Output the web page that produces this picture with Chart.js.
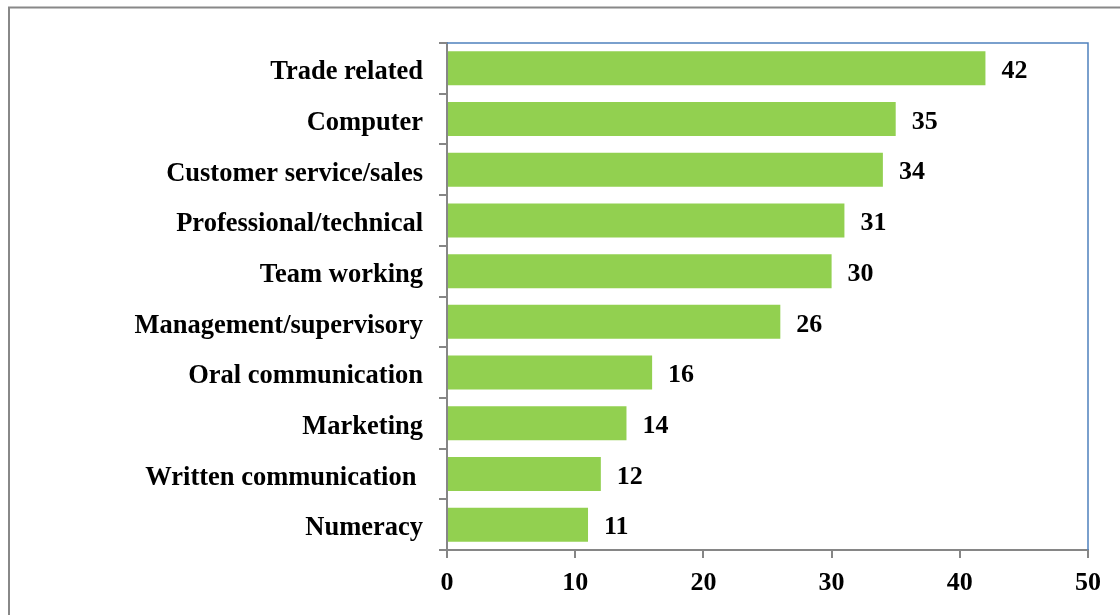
<!DOCTYPE html>
<html>
<head>
<meta charset="utf-8">
<title>Skills</title>
<script src="https://cdn.jsdelivr.net/npm/chart.js@4.4.1/dist/chart.umd.min.js"></script>
<style>
  html, body { margin: 0; padding: 0; background: #fff; }
  #wrap { width: 1120px; height: 615px; position: relative; }
</style>
</head>
<body>
<div id="wrap"><canvas id="skillsChart" width="1120" height="615"></canvas></div>
<script>
const skills = [
    "Trade related",
    "Computer",
    "Customer service/sales",
    "Professional/technical",
    "Team working",
    "Management/supervisory",
    "Oral communication",
    "Marketing",
    "Written communication ",
    "Numeracy"
];
const counts = [42, 35, 34, 31, 30, 26, 16, 14, 12, 11];
const xTicks = [0, 10, 20, 30, 40, 50];

const fontFamily = "'Liberation Serif', 'Times New Roman', serif";
const catFont = { family: fontFamily, size: 26.5, weight: "bold" };
const numFont = { family: fontFamily, size: 26, weight: "bold" };
const axisGray = "#868686";

// outer frame + top/right edge of the plot area
const framePlugin = {
    id: "frame",
    beforeDraw(chart) {
        const ctx = chart.ctx;
        ctx.save();
        ctx.fillStyle = "#fff";
        ctx.fillRect(0, 0, chart.width, chart.height);
        ctx.strokeStyle = "#888888";
        ctx.lineWidth = 2;
        ctx.strokeRect(9, 7.5, 1300, 800);
        ctx.restore();
    },
    beforeDatasetsDraw(chart) {
        const { ctx, chartArea: a } = chart;
        ctx.save();
        ctx.strokeStyle = "#4F81BD";
        ctx.lineWidth = 1.5;
        ctx.beginPath();
        ctx.moveTo(a.left, a.top);
        ctx.lineTo(a.right, a.top);
        ctx.lineTo(a.right, a.bottom);
        ctx.stroke();
        ctx.restore();
    }
};

// value printed just past the end of each bar
const valueLabels = {
    id: "valueLabels",
    afterDatasetsDraw(chart) {
        const ctx = chart.ctx;
        const meta = chart.getDatasetMeta(0);
        ctx.save();
        ctx.font = `${numFont.weight} ${numFont.size}px ${numFont.family}`;
        ctx.fillStyle = "#000";
        ctx.textAlign = "left";
        ctx.textBaseline = "middle";
        meta.data.forEach((bar, i) => {
            ctx.fillText(String(counts[i]), bar.x + 16, bar.y + 3);
        });
        ctx.restore();
    }
};

new Chart(document.getElementById("skillsChart").getContext("2d"), {
    type: "bar",
    data: {
        labels: skills,
        datasets: [{
            data: counts,
            backgroundColor: "#92D050",
            borderWidth: 0,
            barPercentage: 0.67,
            categoryPercentage: 1
        }]
    },
    options: {
        indexAxis: "y",
        responsive: false,
        animation: false,
        events: [],
        layout: { padding: { left: 0, top: 43, right: 32, bottom: 0 } },
        plugins: {
            legend: { display: false },
            tooltip: { enabled: false }
        },
        scales: {
            x: {
                min: 0,
                max: 50,
                afterBuildTicks(scale) {
                    scale.ticks = xTicks.map(v => ({ value: v }));
                },
                afterFit(scale) { scale.height = 65; },
                grid: {
                    drawOnChartArea: false,
                    drawTicks: true,
                    tickLength: 8,
                    color: axisGray,
                    lineWidth: 2
                },
                border: { color: axisGray, width: 2 },
                ticks: { color: "#000", font: numFont, padding: 10 }
            },
            y: {
                afterFit(scale) { scale.width = 447; },
                grid: {
                    drawOnChartArea: false,
                    drawTicks: true,
                    tickLength: 8,
                    color: axisGray,
                    lineWidth: 2
                },
                border: { color: axisGray, width: 2 },
                ticks: { color: "#000", font: catFont, padding: 16, labelOffset: 4, autoSkip: false }
            }
        }
    },
    plugins: [framePlugin, valueLabels]
});
</script>
</body>
</html>
